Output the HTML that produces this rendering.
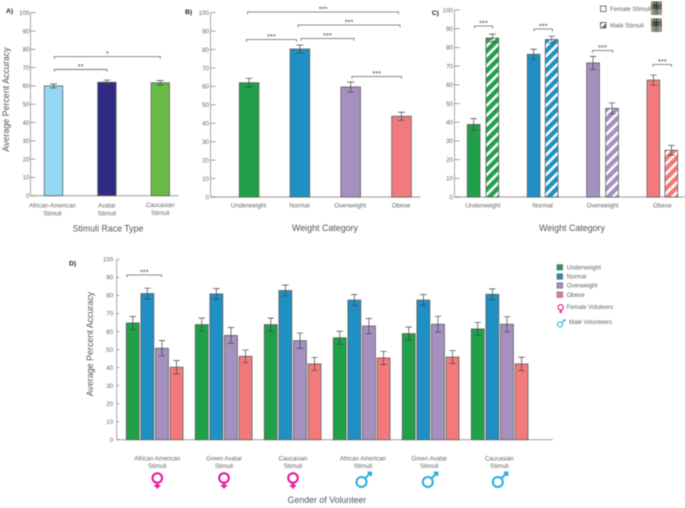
<!DOCTYPE html>
<html>
<head>
<meta charset="utf-8">
<style>
html,body{margin:0;padding:0;background:#fff;}
#fig{display:block;width:685px;height:508px;filter:blur(0.5px);font-family:"Liberation Sans",sans-serif;}
</style>
</head>
<body>
<svg id="fig" xmlns="http://www.w3.org/2000/svg" width="685" height="508" viewBox="0 0 685 508">
<defs>
<pattern id="hatch-green" patternUnits="userSpaceOnUse" width="7" height="7" patternTransform="rotate(-45)"><rect width="7" height="7" fill="#fff"/><rect width="7" height="4.4" fill="#21a04a"/></pattern>
<pattern id="hatch-blue" patternUnits="userSpaceOnUse" width="7" height="7" patternTransform="rotate(-45)"><rect width="7" height="7" fill="#fff"/><rect width="7" height="4.4" fill="#1f90c4"/></pattern>
<pattern id="hatch-purple" patternUnits="userSpaceOnUse" width="7" height="7" patternTransform="rotate(-45)"><rect width="7" height="7" fill="#fff"/><rect width="7" height="4.4" fill="#a690bf"/></pattern>
<pattern id="hatch-red" patternUnits="userSpaceOnUse" width="7" height="7" patternTransform="rotate(-45)"><rect width="7" height="7" fill="#fff"/><rect width="7" height="4.4" fill="#f27a7c"/></pattern>
<pattern id="hatch-key" patternUnits="userSpaceOnUse" width="5" height="5" patternTransform="rotate(-45)"><rect width="5" height="5" fill="#fff"/><rect width="5" height="2" fill="#555"/></pattern>
</defs>
<g id="root"></g>
</svg>
<script>
// Panel A data
var aCategories = [["African-American","Stimuli"],["Avatar","Stimuli"],["Caucasian","Stimuli"]];
var aValues = [60, 62, 61.7];
var aErrors = [1.1, 1.2, 1.2];
// Panel B data
var bCategories = ["Underweight","Normal","Overweight","Obese"];
var bValues = [62, 80.3, 59.7, 43.8];
var bErrors = [2.4, 2.1, 2.7, 2.2];
// Panel C data
var cCategories = ["Underweight","Normal","Overweight","Obese"];
var cFemaleValues = [38.8, 76.3, 71.7, 62.5];
var cFemaleErrors = [3.1, 2.7, 3.5, 2.7];
var cMaleValues = [85, 84.2, 47.4, 25];
var cMaleErrors = [2.1, 1.8, 2.9, 2.6];
// Panel D data
var dCategories = [["African American","Stimuli"],["Green Avatar","Stimuli"],["Caucasian","Stimuli"],["African American","Stimuli"],["Green Avatar","Stimuli"],["Caucasian","Stimuli"]];
var dUnderweight = [64.7, 63.8, 63.8, 56.5, 58.8, 61.4];
var dNormal = [81, 80.8, 82.7, 77.4, 77.4, 80.6];
var dOverweight = [50.7, 57.8, 54.9, 63, 64, 64];
var dObese = [40.2, 46.2, 42, 45.3, 45.8, 42];
var dUnderweightErr = [3.6, 3.6, 3.6, 3.6, 3.6, 3.6];
var dNormalErr = [3, 3, 3, 3, 3, 3];
var dOverweightErr = [4.2, 4.4, 4.2, 4.2, 4.4, 4.2];
var dObeseErr = [3.7, 3.5, 3.6, 3.7, 3.6, 3.7];
var dGenders = ["female","female","female","male","male","male"];
var yTicks = [0,10,20,30,40,50,60,70,80,90,100];

var NS = "http://www.w3.org/2000/svg";
var root = document.getElementById("root");
var GREEN="#21a04a", BLUE="#1f90c4", PURPLE="#a690bf", RED="#f27a7c";
var AXIS="#a8a8a8", TICK="#777", EDGE="#5d5d5d", ERR="#444", BR="#666";

function mk(tag, attrs, parent){
  var el = document.createElementNS(NS, tag);
  for (var k in attrs) el.setAttribute(k, attrs[k]);
  (parent || root).appendChild(el);
  return el;
}
function txt(x, y, s, size, fill, anchor, name, extra){
  var el = mk("text", {x:x, y:y, "font-size":size, fill:fill, "text-anchor":anchor||"middle"});
  el.textContent = s;
  
  
  if (extra) el.setAttribute("transform", extra);
  return el;
}
function scale(y0, y100){ return function(v){ return y0 + (y100 - y0) * v / 100; }; }

function axes(p){
  var g = mk("g", {});
  
  
  var y = p.y;
  var yl = mk("line", {x1:p.x0, x2:p.x0, y1:y(100), y2:y(0), stroke:AXIS, "stroke-width":1}, g);
  
  
  var xl = mk("line", {x1:p.x0, x2:p.x1, y1:y(0), y2:y(0), stroke:AXIS, "stroke-width":1.2}, g);
  
  
  yTicks.forEach(function(t){
    var tk = mk("line", {x1:p.x0, x2:p.x0 + (p.tl||5), y1:y(t), y2:y(t), stroke:TICK, "stroke-width":0.7}, g);
    
    
    txt(p.x0 - p.gap, y(t) + 2.3, String(t), 6.2, "#666", "end", p.id + '-y-tick-label');
  });
}
function bar(x, w, v, e, fill, y, name){
  var g = mk("g", {});
  
  
  var top = y(v);
  mk("rect", {x:x, y:top, width:w, height:y(0)-top, fill:fill, stroke:EDGE, "stroke-width":0.8}, g);
  var cx = x + w/2, c = Math.min(3.5, w/4);
  mk("path", {d:"M"+(cx-c)+" "+y(v+e)+"H"+(cx+c)+"M"+cx+" "+y(v+e)+"V"+y(v-e)+"M"+(cx-c)+" "+y(v-e)+"H"+(cx+c), fill:"none", stroke:ERR, "stroke-width":0.7}, g);
}
function bracket(x1, x2, yy, label, name){
  var g = mk("g", {});
  
  
  mk("path", {d:"M"+x1+" "+(yy+2.2)+"V"+yy+"H"+x2+"V"+(yy+2.2), fill:"none", stroke:BR, "stroke-width":0.8}, g);
  var t = mk("text", {x:(x1+x2)/2, y:yy-0.5, "font-size":7.5, fill:"#444", "text-anchor":"middle"}, g);
  t.textContent = label;
}
function female(cx, cy, r, sw, name){
  var g = mk("g", {fill:"none", stroke:"#e5149a", "stroke-width":sw, "stroke-linecap":"butt"});
  
  
  mk("circle", {cx:cx, cy:cy, r:r}, g);
  mk("path", {d:"M"+cx+" "+(cy+r)+"V"+(cy+r*2.2)+"M"+(cx-r*0.6)+" "+(cy+r*1.65)+"H"+(cx+r*0.6)}, g);
}
function male(cx, cy, r, sw, name){
  var g = mk("g", {fill:"none", stroke:"#29abe2", "stroke-width":sw});
  
  
  mk("circle", {cx:cx, cy:cy, r:r}, g);
  var d = r*0.707, e = r*1.9, h = r*0.7;
  mk("path", {d:"M"+(cx+d)+" "+(cy-d)+"L"+(cx+e)+" "+(cy-e)+"M"+(cx+e-h)+" "+(cy-e)+"H"+(cx+e)+"V"+(cy-e+h)}, g);
}
function people(x, y, name){
  var g = mk("g", {});
  
  
  var colors = ["#5f7f62","#4b3229","#262626","#35604a","#7a4c42"];
  colors.forEach(function(c, i){
    var px = x + i*2.2;
    mk("circle", {cx:px+1, cy:y+1.2, r:1, fill:c}, g);
    mk("rect", {x:px, y:y+2.4, width:2, height:6, fill:c}, g);
    mk("rect", {x:px+0.1, y:y+8.4, width:0.7, height:5.6, fill:c}, g);
    mk("rect", {x:px+1.2, y:y+8.4, width:0.7, height:5.6, fill:c}, g);
  });
}

/* ===== Panel A ===== */
var pA = {id:"panel-a", x0:30.5, x1:178.5, y:scale(195.7,12.7), tl:5, gap:1};
axes(pA);
var aFills = ["#93d9f3","#2f2a85","#68bb45"];
var aX = function(i){ return 44.3 + i*53.4; };
aValues.forEach(function(v,i){ bar(aX(i), 18.4, v, aErrors[i], aFills[i], pA.y, "panel-a-bar"); });
aCategories.forEach(function(c,i){
  var cx = aX(i)+9.2 - (i==0?1:0);
  txt(cx, i==2?207:207.5, c[0], 6.1, "#666", "middle", "panel-a-category-label");
  txt(cx, i==2?215:215.5, c[1], 6.1, "#666", "middle", "panel-a-category-label");
});
bracket(aX(0)+10, aX(1)+9.2, pA.y(69), "**", "panel-a-significance");
bracket(aX(0)+10, aX(2)+9.2, pA.y(76), "*", "panel-a-significance");
txt(108, 231.5, "Stimuli Race Type", 8.8, "#555", "middle", "panel-a-x-title");
txt(9, 99.5, "Average Percent Accuracy", 8.9, "#555", "middle", "panel-a-y-title", "rotate(-90 9 99.5)");
txt(6, 13, "A)", 6.8, "#222", "start", "panel-a-label").setAttribute("font-weight","bold");

/* ===== Panel B ===== */
var pB = {id:"panel-b", x0:210.5, x1:420.5, y:scale(197,12.7), tl:5, gap:1.5};
axes(pB);
var bFills = [GREEN,BLUE,PURPLE,RED];
var bX = function(i){ return 239.3 + i*50.8; };
bValues.forEach(function(v,i){ bar(bX(i), 19.6, v, bErrors[i], bFills[i], pB.y, "panel-b-bar"); });
bCategories.forEach(function(c,i){ txt(bX(i)+9.3, 207.5, c, 6.3, "#666", "middle", "panel-b-category-label"); });
txt(325, 231, "Weight Category", 8.9, "#555", "middle", "panel-b-x-title");
bracket(246.5, 296.5, 39.5, "***", "panel-b-significance");
bracket(301, 354, 38.5, "***", "panel-b-significance");
bracket(352, 401.5, 76.5, "***", "panel-b-significance");
bracket(298, 400, 25, "***", "panel-b-significance");
bracket(247.5, 398.5, 12, "***", "panel-b-significance");
txt(185, 14, "B)", 6.8, "#222", "start", "panel-b-label").setAttribute("font-weight","bold");

/* ===== Panel C ===== */
var pC = {id:"panel-c", x0:454.5, x1:685, y:scale(197,10), tl:5, gap:1.5};
axes(pC);
var cHatch = ["url(#hatch-green)","url(#hatch-blue)","url(#hatch-purple)","url(#hatch-red)"];
var cX = [467.3, 527.3, 586.7, 647];
var cX2 = [486, 545.3, 605.7, 665];
cFemaleValues.forEach(function(v,i){ bar(cX[i], 12.7, v, cFemaleErrors[i], bFills[i], pC.y, "panel-c-female-bar"); });
cMaleValues.forEach(function(v,i){
  bar(cX2[i], 12.7, v, cMaleErrors[i], cHatch[i], pC.y, "panel-c-male-bar");
});
cCategories.forEach(function(c,i){ txt((cX[i]+cX2[i]+12.7)/2, 207.5, c, 6.3, "#666", "middle", "panel-c-category-label"); });
txt(572, 231, "Weight Category", 8.9, "#555", "middle", "panel-c-x-title");
bracket(474.5, 492.5, 26, "***", "panel-c-significance");
bracket(534, 552.5, 29, "***", "panel-c-significance");
bracket(592.5, 612.5, 50.5, "***", "panel-c-significance");
bracket(653, 671.5, 64.5, "***", "panel-c-significance");
txt(431.7, 15, "C)", 6.8, "#222", "start", "panel-c-label").setAttribute("font-weight","bold");
var k1 = mk("rect", {x:600.5, y:6, width:5.5, height:5.5, fill:"#fff", stroke:"#555", "stroke-width":0.8});


var k2 = mk("rect", {x:600.5, y:22.5, width:5.5, height:5.5, fill:"url(#hatch-key)", stroke:"#555", "stroke-width":0.8});


txt(610, 11, "Female Stimuli", 6.2, "#666", "start", "female-stimuli-label");
txt(610, 27.5, "Male Stimuli", 6.2, "#666", "start", "male-stimuli-label");
people(651, 1, "female-stimuli-figures");
people(651, 18, "male-stimuli-figures");

/* ===== Panel D ===== */
var pD = {id:"panel-d", x0:116.7, x1:552.7, y:scale(439.7,259.3), tl:2.5, gap:3.5};
axes(pD);
var dSeries = [dUnderweight, dNormal, dOverweight, dObese];
var dSeriesErr = [dUnderweightErr, dNormalErr, dOverweightErr, dObeseErr];
var dGX = function(g){ return 126.3 + g*69; };
dSeries.forEach(function(vals, s){
  vals.forEach(function(v, g){
    bar(dGX(g) + s*14.6, 12.9, v, dSeriesErr[s][g], bFills[s], pD.y, "panel-d-bar");
  });
});
dCategories.forEach(function(c,g){
  var cx = dGX(g) + 28.5;
  if (g==0) cx += 2.5;
  if (g==1 || g==2) cx += 0.2;
  if (g==3) cx += 1.2;
  if (g==4) cx -= 1.5;
  if (g==5) cx -= 0.5;
  txt(cx, 460.5, c[0], 6.1, "#666", "middle", "panel-d-category-label");
  txt(cx, 468, c[1], 6.1, "#666", "middle", "panel-d-category-label");
  if (dGenders[g] === "female") female(cx, 478, 4.8, 2, "female-symbol");
  else male(cx - 1.5, 482, 5, 2, "male-symbol");
});
bracket(127, 161.5, 275, "***", "panel-d-significance");
txt(327, 503, "Gender of Volunteer", 8.8, "#555", "middle", "panel-d-x-title");
txt(93, 344, "Average Percent Accuracy", 8.9, "#555", "middle", "panel-d-y-title", "rotate(-90 93 344)");
txt(69, 265.5, "D)", 6.8, "#222", "start", "panel-d-label").setAttribute("font-weight","bold");

/* Panel D legend */
var legendLabels = ["Underweight","Normal","Overweight","Obese"];
var legendYs = [267.3, 276.5, 285.5, 294.7];
legendLabels.forEach(function(lab,i){
  var r = mk("rect", {x:557, y:legendYs[i]-2.7, width:5.6, height:5.4, fill:bFills[i], stroke:EDGE, "stroke-width":0.6});
  
  
  txt(566.7, legendYs[i]+2.2, lab, 6.1, "#666", "start", "legend-entry");
});
female(560.7, 307.3, 2.7, 1.1, "legend-female-symbol");
txt(566.5, 309.2, "Female Voluteers", 6, "#666", "start", "legend-female-volunteers");
male(560, 324.5, 2.5, 1.1, "legend-male-symbol");
txt(569, 324, "Male Volunteers", 6, "#666", "start", "legend-male-volunteers");
</script>
</body>
</html>
